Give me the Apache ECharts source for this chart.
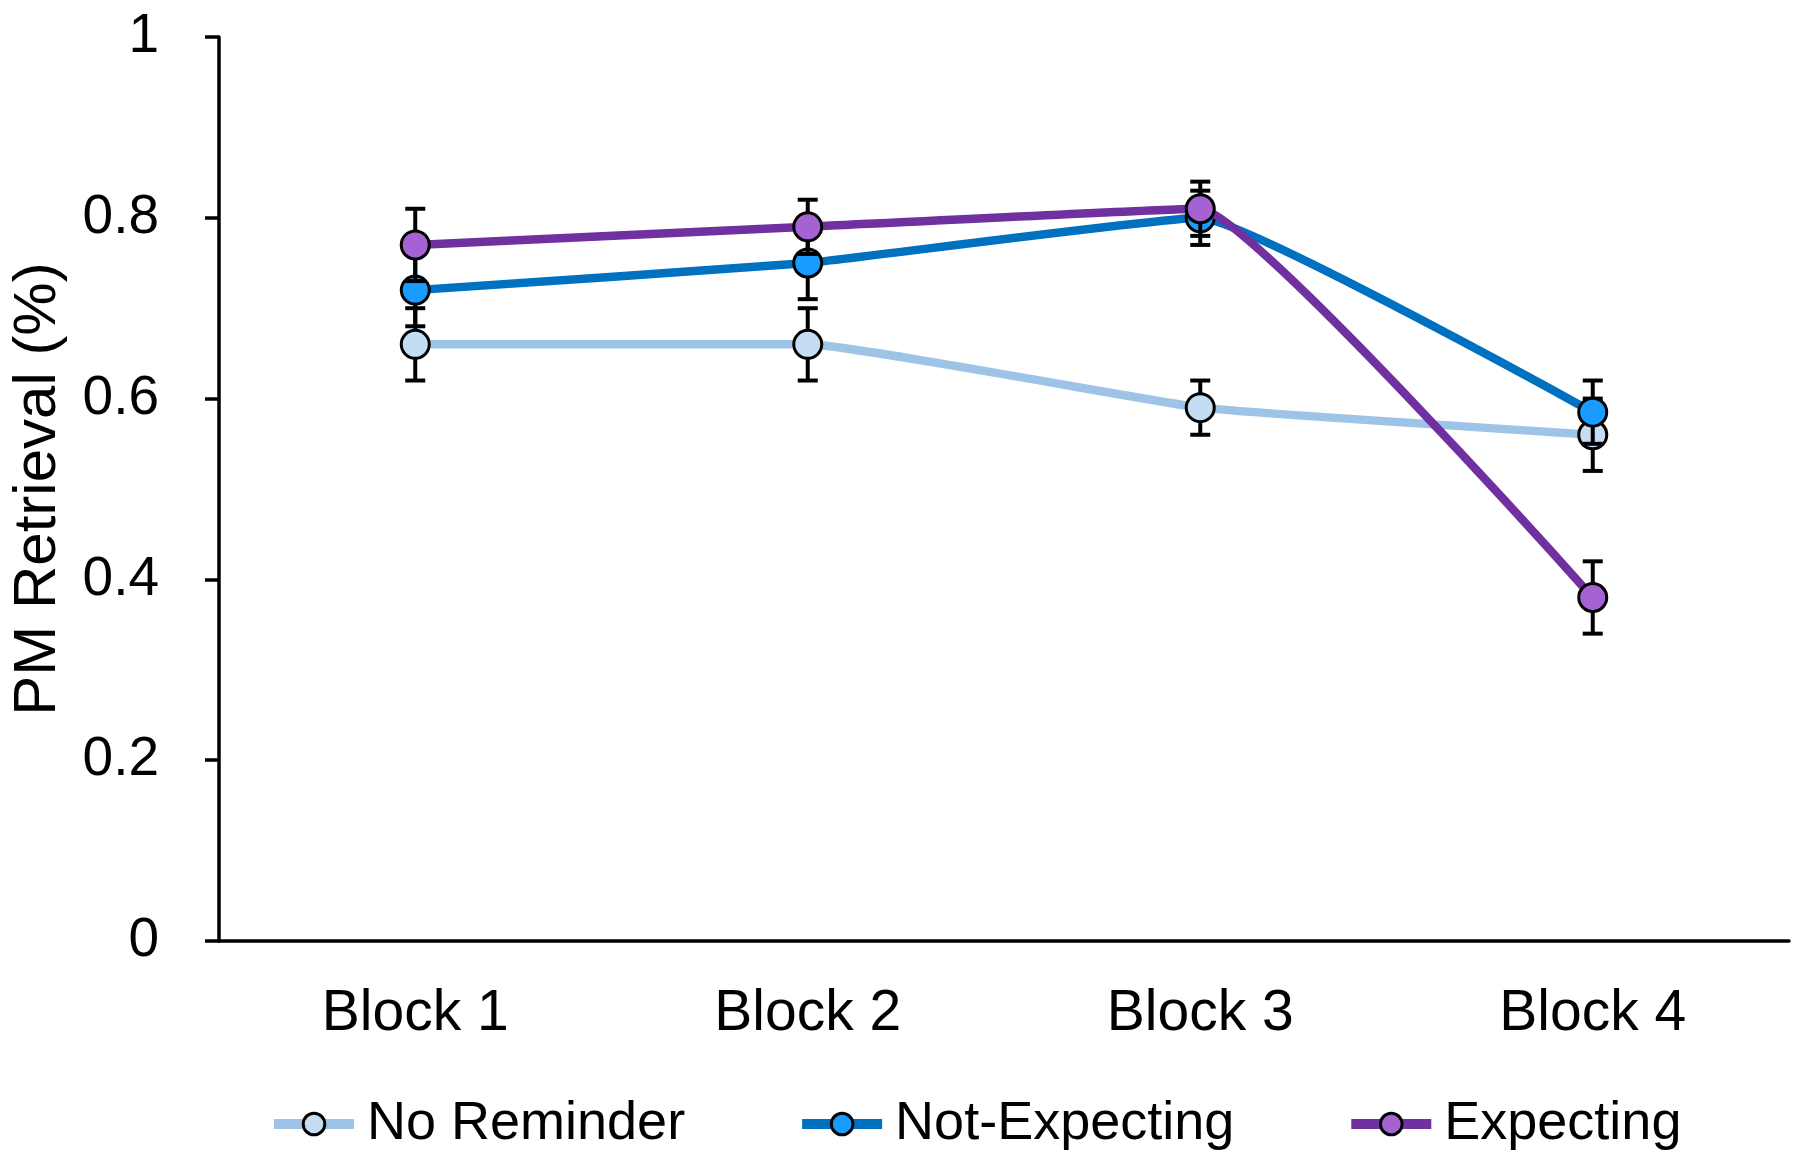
<!DOCTYPE html>
<html>
<head>
<meta charset="utf-8">
<script src="https://cdn.jsdelivr.net/npm/echarts@6/dist/echarts.min.js"></script>
<style>
html,body{margin:0;padding:0;background:#fff;}
#chart{width:1800px;height:1161px;}
</style>
</head>
<body>
<div id="chart"></div>
<script>
const categories = ['Block 1', 'Block 2', 'Block 3', 'Block 4'];
const seriesNames = ['No Reminder', 'Not-Expecting', 'Expecting'];
const noReminder = [0.66, 0.66, 0.59, 0.56];
const noReminderErr = [0.04, 0.04, 0.03, 0.04];
const notExpecting = [0.72, 0.75, 0.80, 0.585];
const notExpectingErr = [0.04, 0.04, 0.03, 0.035];
const expecting = [0.77, 0.79, 0.81, 0.38];
const expectingErr = [0.04, 0.03, 0.03, 0.04];
const yTicks = [0, 0.2, 0.4, 0.6, 0.8, 1];

const FONT = '"Liberation Sans", Arial, sans-serif';
const lineColors = ['#9DC3E6', '#0070C0', '#7030A0'];
const markerColors = ['#C5DDF2', '#1A9BFF', '#A562D2'];
const values = [noReminder, notExpecting, expecting];
const errs = [noReminderErr, notExpectingErr, expectingErr];

function errSeries(vals, err, idx) {
  return {
    type: 'custom',
    name: seriesNames[idx] + ' err',
    z: 1 + idx * 2,
    silent: true,
    data: vals.map((v, i) => [i, v - err[i], v + err[i]]),
    renderItem: function (params, api) {
      const x = api.value(0);
      const lo = api.coord([x, api.value(1)]);
      const hi = api.coord([x, api.value(2)]);
      const cw = 10;
      const style = { stroke: '#000', lineWidth: 4, fill: null };
      return {
        type: 'group',
        children: [
          { type: 'line', shape: { x1: lo[0], y1: lo[1], x2: hi[0], y2: hi[1] }, style: style },
          { type: 'line', shape: { x1: lo[0] - cw, y1: lo[1], x2: lo[0] + cw, y2: lo[1] }, style: style },
          { type: 'line', shape: { x1: hi[0] - cw, y1: hi[1], x2: hi[0] + cw, y2: hi[1] }, style: style }
        ]
      };
    }
  };
}

function lineSeries(vals, idx) {
  return {
    type: 'line',
    name: seriesNames[idx],
    z: 2 + idx * 2,
    data: vals,
    smooth: 0.1,
    symbol: 'circle',
    symbolSize: 28,
    lineStyle: { color: lineColors[idx], width: 8.5 },
    itemStyle: { color: markerColors[idx], borderColor: '#000', borderWidth: 3 },
    emphasis: { disabled: true }
  };
}

const series = [];
for (let i = 0; i < 3; i++) {
  series.push(errSeries(values[i], errs[i], i));
  series.push(lineSeries(values[i], i));
}

const chart = echarts.init(document.getElementById('chart'), null, { renderer: 'canvas' });
chart.setOption({
  animation: false,
  backgroundColor: '#fff',
  textStyle: { fontFamily: FONT },
  grid: { left: 218, right: 11, top: 37, bottom: 220, containLabel: false },
  legend: {
    data: seriesNames.map((n, i) => ({ name: n, itemStyle: { color: markerColors[i], borderColor: '#000', borderWidth: 3 }, lineStyle: { color: lineColors[i], width: 10 } })),
    left: 264,
    top: 1092,
    itemWidth: 80,
    itemHeight: 27,
    itemGap: 112,
    textStyle: { fontFamily: FONT, fontSize: 54, color: '#000', padding: [0, 0, 0, 8] }
  },
  xAxis: {
    type: 'category',
    data: categories,
    boundaryGap: true,
    axisLine: { lineStyle: { color: '#000', width: 3.5 } },
    axisTick: { inside: true, length: 19, lineStyle: { color: '#000', width: 2.5 } },
    axisLabel: { fontFamily: FONT, fontSize: 57, color: '#000', margin: 45 },
    splitLine: { show: false }
  },
  yAxis: {
    type: 'value',
    min: yTicks[0],
    max: yTicks[yTicks.length - 1],
    interval: 0.2,
    name: 'PM Retrieval (%)',
    nameLocation: 'middle',
    nameGap: 151,
    nameTextStyle: { fontFamily: FONT, fontSize: 60, color: '#000' },
    axisLine: { show: true, lineStyle: { color: '#000', width: 3.5 } },
    axisTick: { show: true, inside: false, length: 14, lineStyle: { color: '#000', width: 3.5 } },
    axisLabel: { fontFamily: FONT, fontSize: 55, color: '#000', margin: 60 },
    splitLine: { show: false }
  },
  series: series
});
</script>
</body>
</html>
